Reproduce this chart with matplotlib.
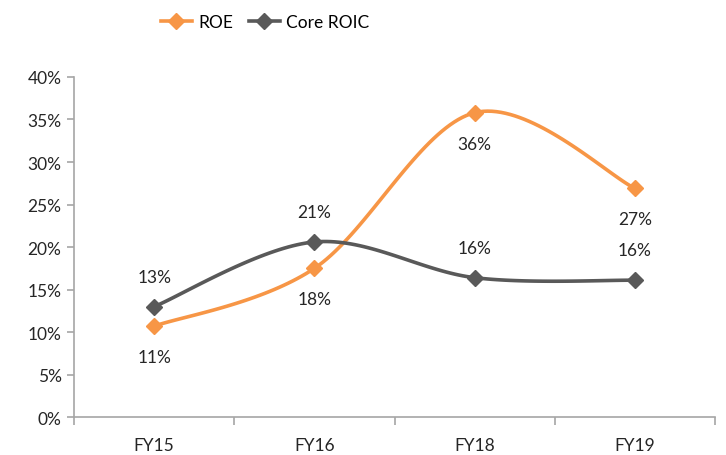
import numpy as np
import matplotlib
matplotlib.use("Agg")
import matplotlib.pyplot as plt
from matplotlib.ticker import PercentFormatter

plt.rcParams['font.family'] = ['Lato', 'DejaVu Sans']

categories = ["FY15", "FY16", "FY18", "FY19"]
roe = [10.7, 17.5, 35.8, 26.9]
core_roic = [13.0, 20.6, 16.4, 16.1]
roe_labels = ["11%", "18%", "36%", "27%"]
roic_labels = ["13%", "21%", "16%", "16%"]

ORANGE = "#F79646"
GRAY = "#595959"


def smooth(xs, ys, n=40):
    xs = np.asarray(xs, float)
    ys = np.asarray(ys, float)
    P = np.column_stack([xs, ys])
    P = np.vstack([P[0], P, P[-1]])
    out = []
    for i in range(1, len(P) - 2):
        p0, p1, p2, p3 = P[i - 1], P[i], P[i + 1], P[i + 2]
        t = np.linspace(0, 1, n)[:, None]
        c1 = p1 + (p2 - p0) / 6
        c2 = p2 - (p3 - p1) / 6
        seg = (1 - t) ** 3 * p1 + 3 * (1 - t) ** 2 * t * c1 + 3 * (1 - t) * t ** 2 * c2 + t ** 3 * p2
        out.append(seg if i == 1 else seg[1:])
    out = np.vstack(out)
    return out[:, 0], out[:, 1]


fig = plt.figure(figsize=(7.26, 4.56), dpi=100)
ax = fig.add_axes([0.102, 0.083, 0.883, 0.746])
x = np.arange(len(categories))

for vals, col, name in [(roe, ORANGE, "ROE"), (core_roic, GRAY, "Core ROIC")]:
    sx, sy = smooth(x, vals)
    ax.plot(sx, sy, color=col, lw=2.6, solid_capstyle='round')
    ax.plot(x, vals, ls='none', marker='D', ms=8, color=col)
    ax.plot([], [], color=col, lw=2.6, marker='D', ms=8, label=name)

for xi, v, lab in zip(x, roe, roe_labels):
    ax.annotate(lab, (xi, v), xytext=(0, -31), textcoords='offset pixels',
                ha='center', va='center', fontsize=12.5, color='#262626')
for xi, v, lab in zip(x, core_roic, roic_labels):
    ax.annotate(lab, (xi, v), xytext=(0, 30), textcoords='offset pixels',
                ha='center', va='center', fontsize=12.5, color='#262626')

ax.set_xlim(-0.5, 3.5)
ax.set_ylim(0, 40)
ax.set_yticks(np.arange(0, 41, 5))
ax.yaxis.set_major_formatter(PercentFormatter(decimals=0))
ax.set_xticks(x)
ax.set_xticklabels(categories)
ax.set_xticks(np.arange(-0.5, 3.6, 1), minor=True)
ax.tick_params(axis='x', which='major', length=0, pad=14, labelsize=12.5, colors='#262626')
ax.tick_params(axis='x', which='minor', length=6, color='#A6A6A6', width=1.2)
ax.tick_params(axis='y', length=5, color='#A6A6A6', width=1.2, labelsize=12.5, colors='#262626', pad=4)
for s in ['top', 'right']:
    ax.spines[s].set_visible(False)
for s in ['left', 'bottom']:
    ax.spines[s].set_color('#A6A6A6')
    ax.spines[s].set_linewidth(1.2)

fig.legend(loc='center', bbox_to_anchor=(0.365, 0.95), ncol=2, frameon=False,
           fontsize=12.5, handlelength=1.8, columnspacing=0.9, handletextpad=0.35)

fig.savefig("out.png", dpi=100)
